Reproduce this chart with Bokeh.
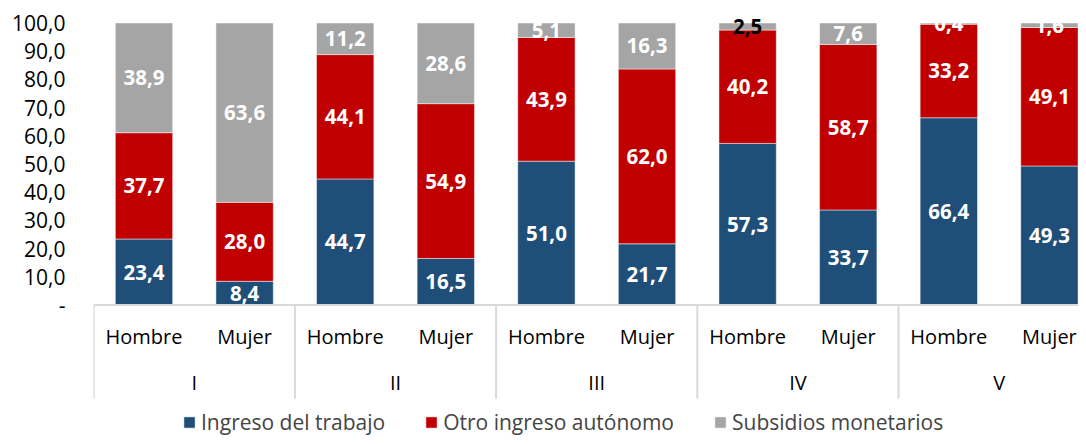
from bokeh.plotting import figure
from bokeh.models import ColumnDataSource, Range1d, FixedTicker, Legend, LegendItem, Span
from bokeh.core.properties import value
from bokeh.embed import file_html
from bokeh.resources import INLINE
import numpy as np

# ---------------- data ----------------
quintiles = ["I", "II", "III", "IV", "V"]
sexes = ["Hombre", "Mujer"]
series_names = ["Ingreso del trabajo", "Otro ingreso autónomo", "Subsidios monetarios"]
ingreso_trabajo = [23.4, 8.4, 44.7, 16.5, 51.0, 21.7, 57.3, 33.7, 66.4, 49.3]
otro_autonomo = [37.7, 28.0, 44.1, 54.9, 43.9, 62.0, 40.2, 58.7, 33.2, 49.1]
subsidios = [38.9, 63.6, 11.2, 28.6, 5.1, 16.3, 2.5, 7.6, 0.4, 1.6]
y_ticks = [0, 10, 20, 30, 40, 50, 60, 70, 80, 90, 100]
y_tick_labels = ["-", "10,0", "20,0", "30,0", "40,0", "50,0", "60,0", "70,0", "80,0", "90,0", "100,0"]

# ---------------- style ----------------
colors = ["#1F4E79", "#C00000", "#A5A5A5"]
FONT = "Open Sans"
grid_col = "#D9D9D9"

n_bars = len(quintiles) * len(sexes)
xs = np.arange(n_bars)
sub_labels = [sexes[i % len(sexes)] for i in range(n_bars)]

p = figure(width=1078, height=437, output_backend="svg", toolbar_location=None,
           x_range=Range1d(-0.502, 9.289), y_range=Range1d(-46.99, 107.98),
           x_axis_location=None, min_border_left=93, min_border_right=0,
           min_border_top=0, min_border_bottom=0)
p.outline_line_color = None
p.grid.visible = False
p.background_fill_color = "white"

# y axis
ax = p.yaxis[0]
ax.ticker = FixedTicker(ticks=y_ticks)
ax.major_label_overrides = {t: l for t, l in zip(y_ticks, y_tick_labels)}
ax.axis_line_color = None
ax.major_tick_line_color = None
ax.minor_tick_line_color = None
ax.major_tick_out = 0
ax.major_tick_in = 0
ax.major_label_standoff = 28
ax.major_label_text_font = FONT
ax.major_label_text_font_size = "21px"
ax.major_label_text_color = "black"

# stacked bars
src = ColumnDataSource(dict(x=xs, trabajo=ingreso_trabajo, otro=otro_autonomo, subs=subsidios))
rends = p.vbar_stack(["trabajo", "otro", "subs"], x="x", width=0.57, color=colors,
                     line_color="white", line_width=0.8, line_alpha=0.6, source=src)

# data labels
vals = [ingreso_trabajo, otro_autonomo, subsidios]
bottom = np.zeros(n_bars)
lx, ly, lt, lc = [], [], [], []
for si, v in enumerate(vals):
    v = np.array(v)
    for i in range(n_bars):
        lx.append(xs[i])
        ly.append(bottom[i] + v[i] / 2)
        lt.append(f"{v[i]:.1f}".replace(".", ","))
        # the small subsidy label of IV-Hombre is shown in black
        black = (si == 2 and quintiles[i // 2] == "IV" and sexes[i % 2] == "Hombre")
        lc.append("black" if black else "white")
    bottom = bottom + v
p.text(x=lx, y=ly, text=lt, text_color=lc, text_align="center", text_baseline="middle",
       text_font=value(FONT), text_font_style="bold", text_font_size="20.5px")

# category axis (drawn)
p.add_layout(Span(location=0, dimension="width", line_color=grid_col, line_width=2))
bounds = [g * len(sexes) - 0.5 for g in range(len(quintiles))]
p.segment(x0=bounds, y0=[0] * len(bounds), x1=bounds, y1=[-33.2] * len(bounds),
          line_color=grid_col, line_width=2)
p.text(x=list(xs), y=[-11.2] * n_bars, text=sub_labels, text_align="center",
       text_baseline="alphabetic", text_font=value(FONT), text_font_size="20px", text_color="black")
gx = [g * len(sexes) + (len(sexes) - 1) / 2 for g in range(len(quintiles))]
p.text(x=gx, y=[-27.5] * len(gx), text=quintiles, text_align="center",
       text_baseline="alphabetic", text_font=value(FONT), text_font_size="20px", text_color="black")

# legend
legend = Legend(items=[LegendItem(label=n, renderers=[r]) for n, r in zip(series_names, rends)],
                orientation="horizontal", location=(89, 1), padding=0, margin=0,
                spacing=39, label_standoff=5, glyph_width=14, glyph_height=14,
                label_text_font=FONT, label_text_font_size="21px",
                border_line_alpha=0, background_fill_alpha=0)
p.add_layout(legend)

open("out.html", "w").write(file_html(p, INLINE))
